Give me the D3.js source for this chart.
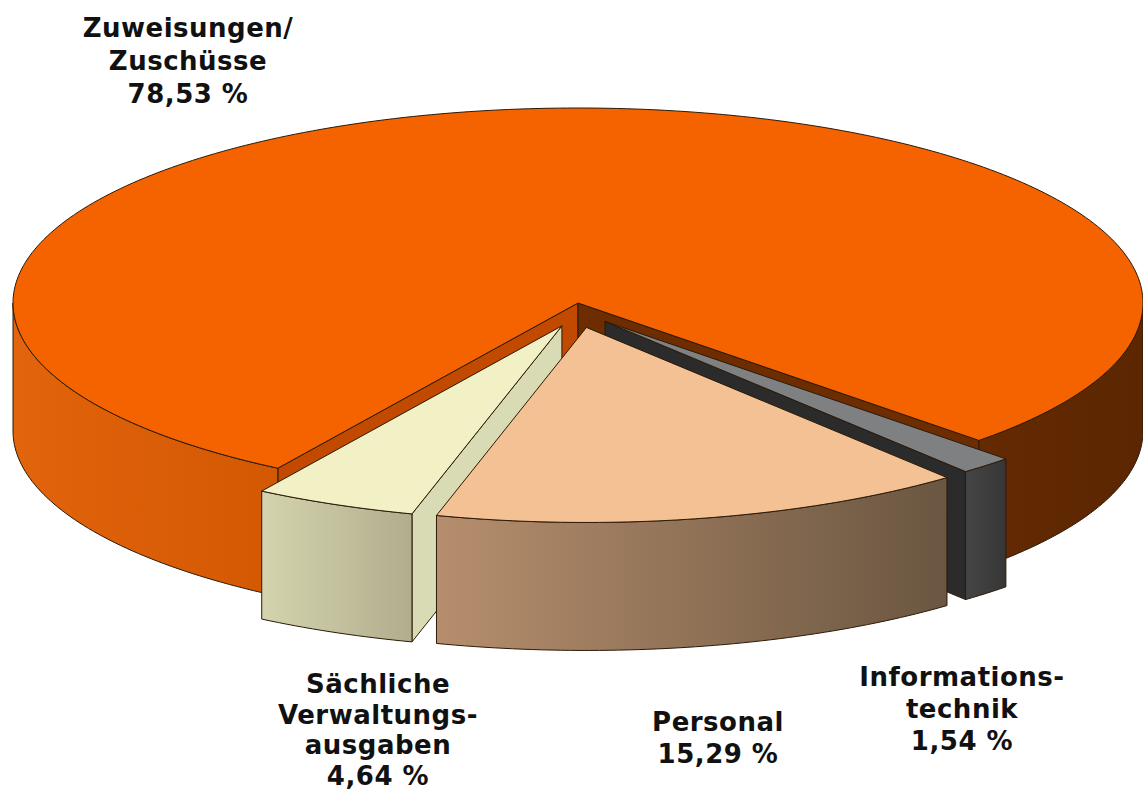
<!DOCTYPE html>
<html>
  <head>
    <meta charset="utf-8">
    <title>Ausgaben</title>
    <style>
      body { margin: 0; background: #fff; }
      text { font-family: "DejaVu Sans", Verdana, sans-serif; font-weight: bold; fill: #111; }
    </style>
  </head>
  <body>
    <script src="https://d3js.org/d3.v7.min.js"></script>
    <svg id="chart" width="1143" height="791"></svg>
    <script>
      // slices, in drawing order (clockwise from the right cut of the big slice)
      const categories = ["Informationstechnik", "Personal", "Sächliche Verwaltungsausgaben", "Zuweisungen/Zuschüsse"]
      const values = [1.54, 15.29, 4.64, 78.53]
      const labelLines = [
        ["Informations-", "technik", "1,54 %"],
        ["Personal", "15,29 %"],
        ["Sächliche", "Verwaltungs-", "ausgaben", "4,64 %"],
        ["Zuweisungen/", "Zuschüsse", "78,53 %"]
      ]
      const exploded = [true, true, true, false]

      // styles per slice
      const topColor = ["#7f8081", "#f3c194", "#f2f1c6", "#f46300"]
      const wallStops = [["#454545", "#363636"], ["#b68e6d", "#6a5641"], ["#d4d4ae", "#b1ad8d"], null]
      const startWallColor = ["#2b2b2b", "#9a7a5c", "#d9dbb4", "#c24900"]
      const endWallColor = ["#2b2b2b", "#9a7a5c", "#d9dbb4", "#6e2d00"]
      // label centers (x, first baseline, line step)
      const labelPos = [[962, 686, 32], [718, 731, 32], [378, 693, 30.5], [188, 37, 33]]

      const width = 1143, height = 791
      const cx = 578, cy = 303, rx = 565, ry = 195, depth = 128
      const ex = 40, ey = 25
      const start = 134.8 * Math.PI / 180

      const svg = d3.select('#chart')
      const defs = svg.append('defs')

      const rows = categories.map((c, i) => ({ name: c, value: values[i], i: i }))
      const pie = d3.pie().sort(null).value(d => d.value)
        .startAngle(start).endAngle(start + 2 * Math.PI)
      const arcs = pie(rows)

      const line = d3.line()
      const path = pts => line(pts) + 'Z'

      function pt(t, h, o) {
        return [cx + o[0] + rx * Math.cos(t), cy + o[1] + ry * Math.sin(t) + h]
      }
      function rim(t0, t1, h, o) {
        const n = Math.max(2, Math.ceil(Math.abs(t1 - t0) / (Math.PI / 180)))
        return d3.range(n + 1).map(k => pt(t0 + (t1 - t0) * k / n, h, o))
      }
      // parts of [t0,t1] that lie on the front half of the disk
      function frontParts(t0, t1) {
        const out = []
        for (let k = -1; k <= 2; k++) {
          const lo = Math.max(t0, 2 * Math.PI * k), hi = Math.min(t1, 2 * Math.PI * k + Math.PI)
          if (hi > lo) out.push([lo, hi])
        }
        return out
      }

      // gradient for the big slice outer wall, over the full width
      const gMain = defs.append('linearGradient').attr('id', 'wall-main')
        .attr('gradientUnits', 'userSpaceOnUse')
        .attr('x1', cx - rx).attr('x2', cx + rx).attr('y1', 0).attr('y2', 0)
      ;[[0, '#e2640c'], [0.30, '#cf5500'], [0.68, '#6f3004'], [1, '#5b2601']].forEach(s =>
        gMain.append('stop').attr('offset', s[0]).attr('stop-color', s[1]))
      wallStops.forEach((s, i) => {
        if (!s) return
        const g = defs.append('linearGradient').attr('id', 'wall-' + i)
        g.append('stop').attr('offset', 0).attr('stop-color', s[0])
        g.append('stop').attr('offset', 1).attr('stop-color', s[1])
      })

      const pieces = arcs.map(a => {
        const i = a.data.i
        const t0 = a.startAngle - Math.PI / 2, t1 = a.endAngle - Math.PI / 2
        const mid = (t0 + t1) / 2
        const o = exploded[i] ? [ex * Math.cos(mid), ey * Math.sin(mid)] : [0, 0]
        return { i, t0, t1, o }
      })

      function drawPiece(g, p, part) {
        const apex = [cx + p.o[0], cy + p.o[1]]
        const apexB = [apex[0], apex[1] + depth]
        const stroke = s => s.attr('stroke', '#2b1a08').attr('stroke-width', 1).attr('stroke-linejoin', 'round')
        if (part === 'radial') {
          if (Math.cos(p.t0) < 0) {
            g.append('path').attr('class', 'radial')
              .attr('d', path([apex, pt(p.t0, 0, p.o), pt(p.t0, depth, p.o), apexB]))
              .attr('fill', startWallColor[p.i]).call(stroke)
          }
          if (Math.cos(p.t1) > 0) {
            g.append('path').attr('class', 'radial')
              .attr('d', path([apex, pt(p.t1, 0, p.o), pt(p.t1, depth, p.o), apexB]))
              .attr('fill', endWallColor[p.i]).call(stroke)
          }
        }
        if (part === 'outer') {
          frontParts(p.t0, p.t1).forEach(([lo, hi]) => {
            const pts = rim(lo, hi, 0, p.o).concat(rim(hi, lo, depth, p.o))
            g.append('path').attr('class', 'outer')
              .attr('d', path(pts))
              .attr('fill', wallStops[p.i] ? `url(#wall-${p.i})` : 'url(#wall-main)')
              .call(stroke)
          })
        }
        if (part === 'top') {
          g.append('path').attr('class', 'top')
            .attr('d', path([apex].concat(rim(p.t0, p.t1, 0, p.o))))
            .attr('fill', topColor[p.i]).call(stroke)
        }
      }

      const gPie = svg.append('g')
      const main = pieces.filter(p => !exploded[p.i])
      const out = pieces.filter(p => exploded[p.i])
      ;['radial', 'outer', 'top'].forEach(part => main.forEach(p => drawPiece(gPie, p, part)))
      ;['radial', 'outer', 'top'].forEach(part => out.forEach(p => drawPiece(gPie, p, part)))

      // labels
      svg.append('g').selectAll('text')
        .data(rows)
        .join('text')
          .attr('text-anchor', 'middle')
          .style('font-size', '26px')
          .style('letter-spacing', '0.5px')
          .each(function (d) {
            const [x, y, step] = labelPos[d.i]
            d3.select(this).selectAll('tspan')
              .data(labelLines[d.i])
              .join('tspan')
                .attr('x', x)
                .attr('y', (s, k) => y + k * step)
                .text(s => s)
          })
    </script>
  </body>
</html>
